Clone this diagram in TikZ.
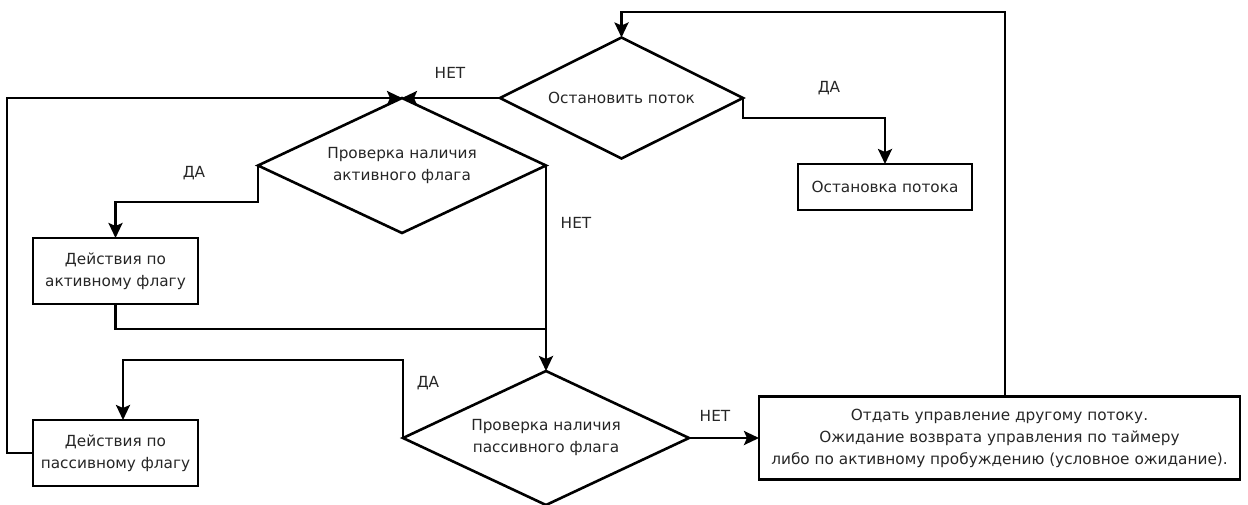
\documentclass[tikz,border=0pt]{standalone}
\usepackage{fontspec}
\setmainfont{DejaVu Sans}
\usetikzlibrary{shapes.geometric,arrows.meta}
\begin{document}
\begin{tikzpicture}[x=1pt,y=-1pt,
  every node/.style={font=\fontsize{15.3}{22}\selectfont,text=black!85},
  line/.style={line width=2.6pt},
  arr/.style={line width=2.6pt,-{Stealth[length=15pt,width=14pt,inset=3pt]}},
  dec/.style={draw,line width=2.6pt,diamond,aspect=2,inner sep=0pt,outer sep=0pt,align=center},
  blk/.style={draw,line width=2.6pt,rectangle,inner sep=2pt,outer sep=0pt,align=center},
  lbl/.style={inner sep=0pt}]
\useasboundingbox (0,0) rectangle (1248,504);
% decisions
\node[dec,minimum width=243pt,minimum height=121pt] (d1) at (621.5,98) {Остановить поток};
\node[dec,minimum width=288pt,minimum height=135pt] (d2) at (402,165.5) {Проверка наличия\\активного флага};
\node[dec,minimum width=286pt,minimum height=134pt] (d3) at (546,438) {Проверка наличия\\пассивного флага};
% blocks
\node[blk,minimum width=165pt,minimum height=66pt] (act) at (115.5,271) {Действия по\\активному флагу};
\node[blk,minimum width=165pt,minimum height=66pt] (pas) at (115.5,453) {Действия по\\пассивному флагу};
\node[blk,minimum width=174pt,minimum height=46pt] (stop) at (885,187) {Остановка потока};
\node[blk,minimum width=481pt,minimum height=83pt] (big) at (999.5,438) {Отдать управление другому потоку.\\Ожидание возврата управления по таймеру\\либо по активному пробуждению (условное ожидание).};
% helper coordinates
\coordinate (lx) at (7,453);
\coordinate (ly) at (7,98);
\coordinate (a1) at (258,202);
\coordinate (a2) at (115.5,202);
\coordinate (m) at (546,329);
\coordinate (p1) at (403,360);
\coordinate (p2) at (123,360);
\coordinate (pin) at (123,420);
\coordinate (bt) at (1005,397);
\coordinate (t1) at (1005,12);
\coordinate (t2) at (621.5,12);
\coordinate (s1) at (743,118);
\coordinate (s2) at (885,118);
% connectors
\draw[arr] (d1.west) -- (d2.north);
\draw[arr] (pas.west) -- (lx) -- (ly) -- (d2.north);
\draw[arr] (d2.west) -- (a1) -- (a2) -- (act.north);
\draw[arr] (d2.east) -- (d3.north);
\draw[line] (act.south) |- (m);
\draw[arr] (d3.west) -- (p1) -- (p2) -- (pin);
\draw[arr] (d3.east) -- (big.west);
\draw[arr] (bt) -- (t1) -- (t2) -- (d1.north);
\draw[arr] (d1.east) -- (s1) -- (s2) -- (stop.north);
% labels
\node[lbl] (l1) at (450,73) {НЕТ};
\node[lbl] (l2) at (829,88) {ДА};
\node[lbl] (l3) at (194,173) {ДА};
\node[lbl] (l4) at (576,223) {НЕТ};
\node[lbl] (l5) at (428,383) {ДА};
\node[lbl] (l6) at (715,416) {НЕТ};
\end{tikzpicture}
\end{document}
